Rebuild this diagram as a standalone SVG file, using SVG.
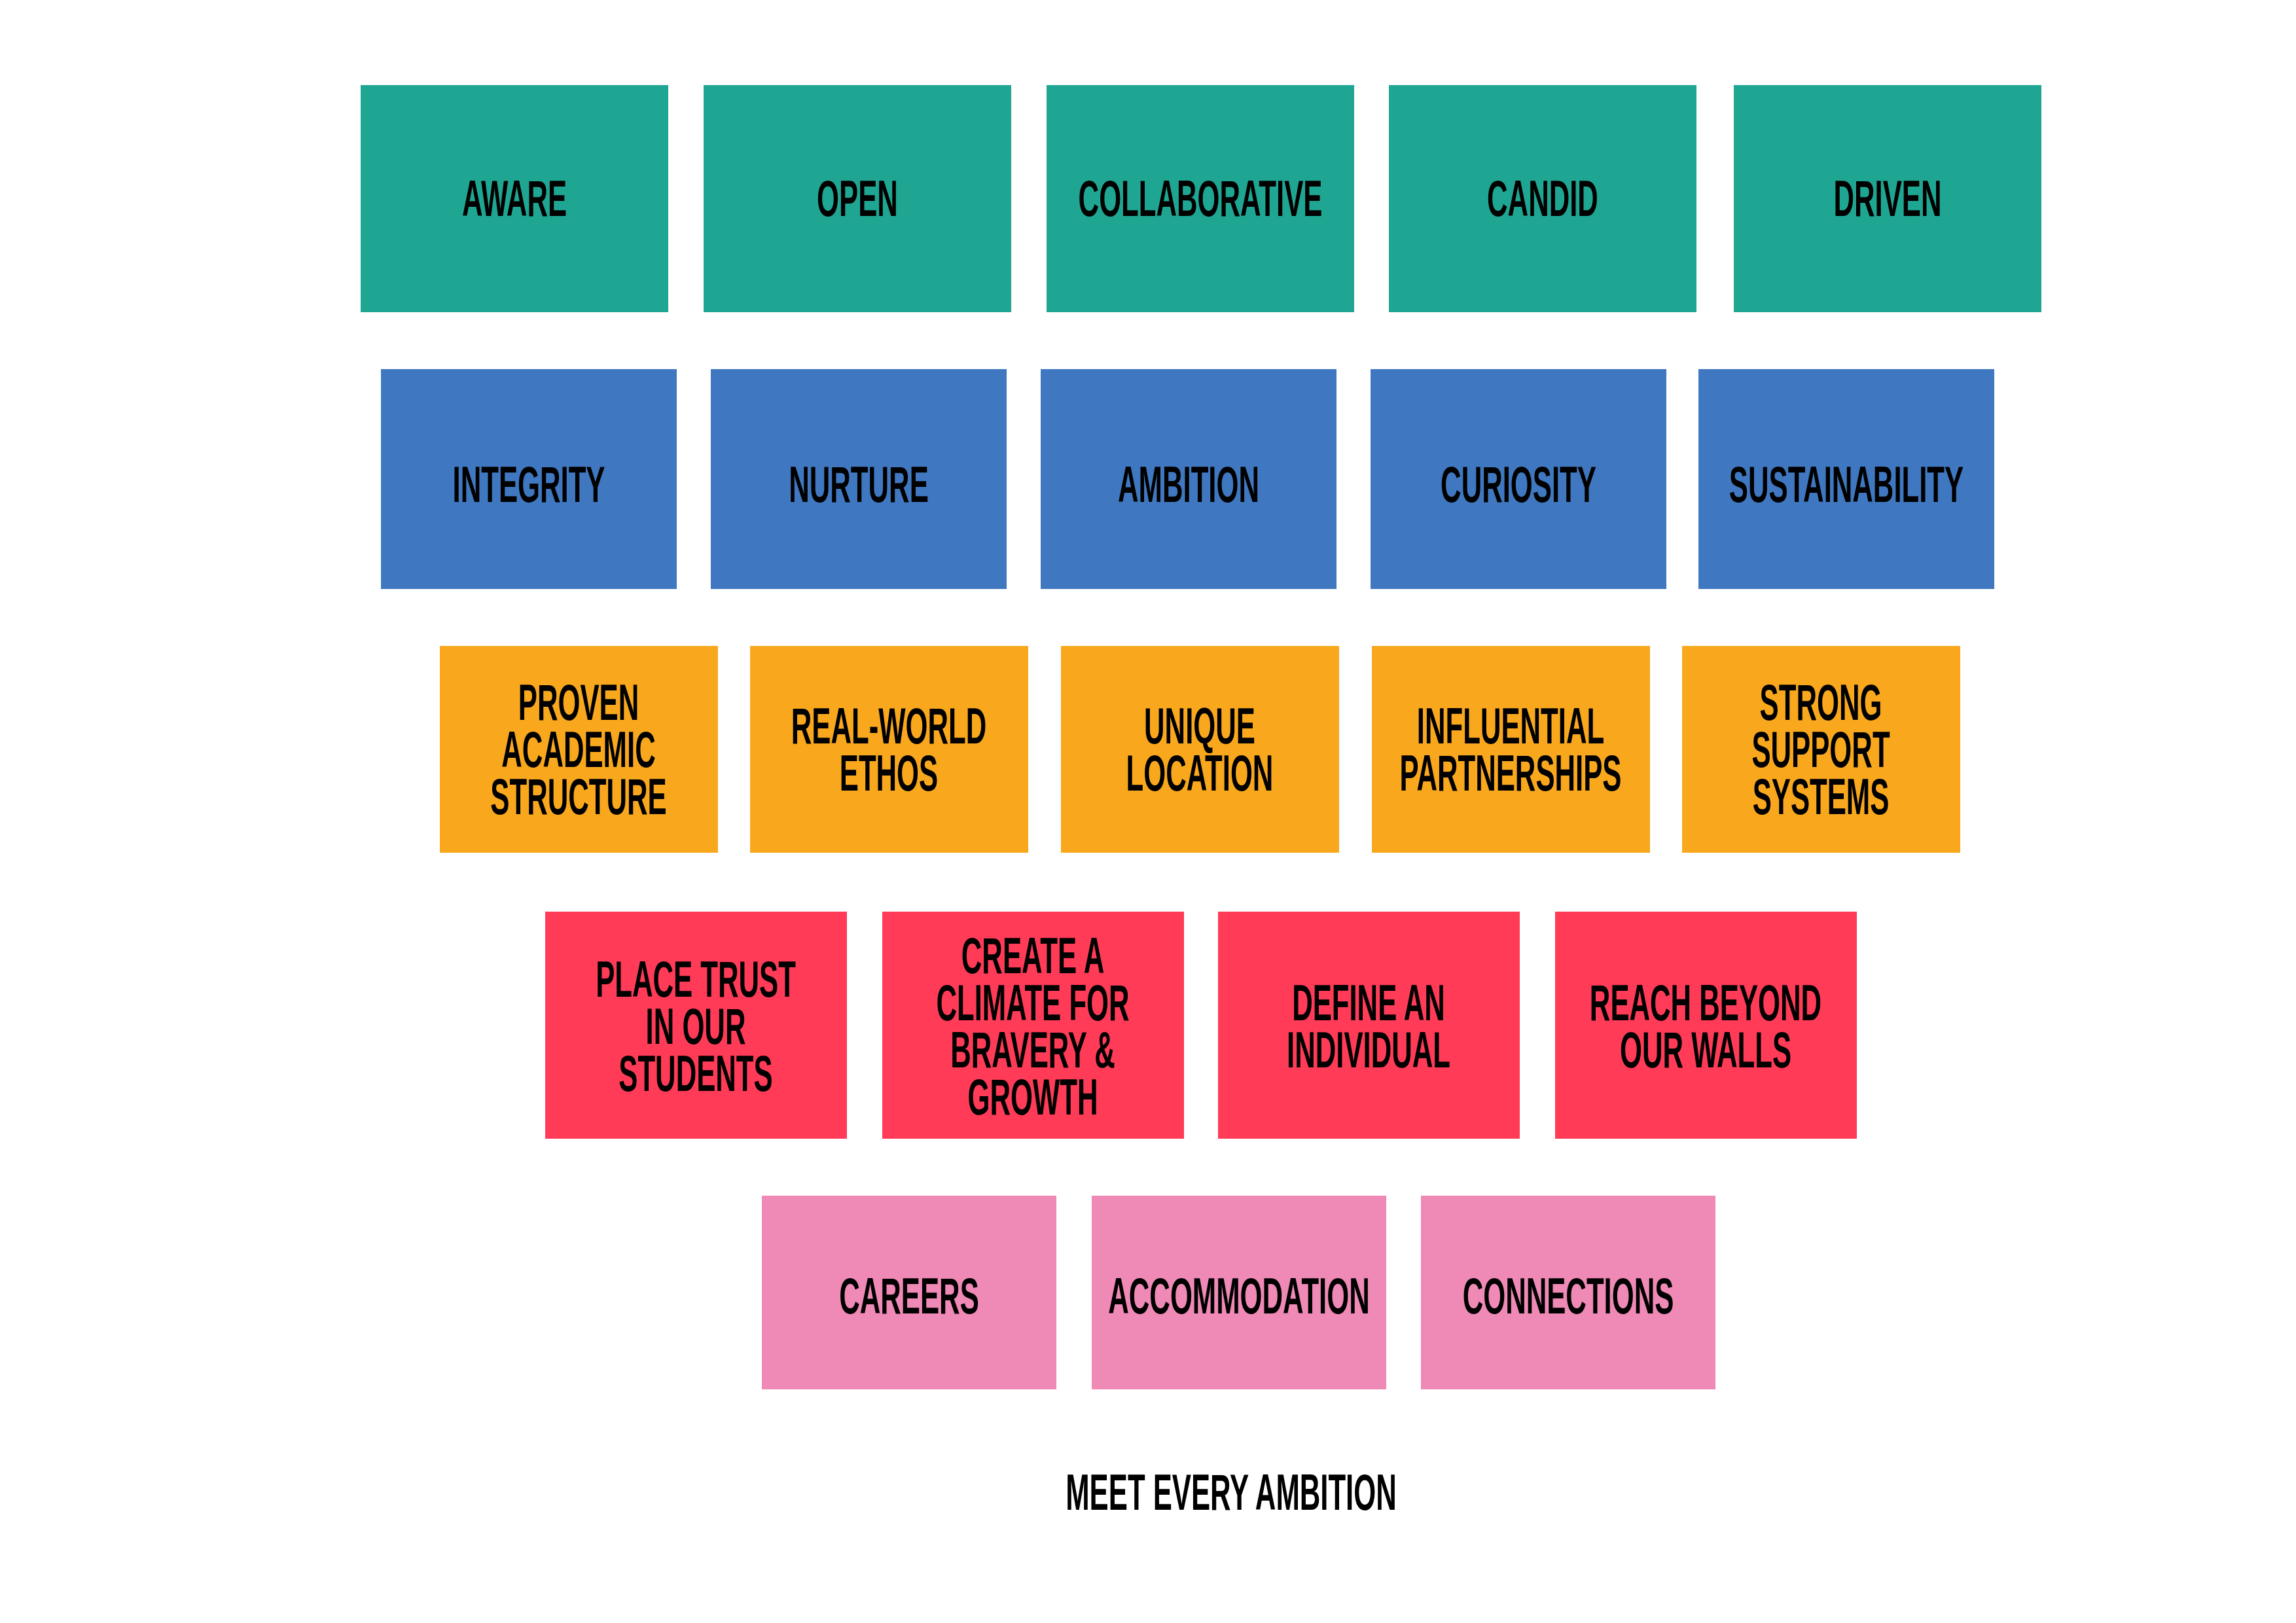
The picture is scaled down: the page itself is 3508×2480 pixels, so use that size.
<svg xmlns="http://www.w3.org/2000/svg" width="3508" height="2480" viewBox="0 0 3508 2480">
<style>
.t{font-family:"Liberation Sans",Arial,sans-serif;font-weight:bold;font-size:78px;fill:#000;text-anchor:middle}
.g{fill:#1FA693}.b{fill:#3F78C0}.o{fill:#F9A81D}.r{fill:#FF3B57}.p{fill:#EF89B6}
</style>
<rect width="3508" height="2480" fill="#fff"/>
<g id="aware"><rect class="g" x="551" y="130" width="470" height="347"/><g transform="translate(786,302) scale(0.56,1)"><text class="t" y="28">AWARE</text></g></g>
<g id="open"><rect class="g" x="1075" y="130" width="470" height="347"/><g transform="translate(1310,302) scale(0.56,1)"><text class="t" y="28">OPEN</text></g></g>
<g id="collaborative"><rect class="g" x="1599" y="130" width="470" height="347"/><g transform="translate(1834,302) scale(0.56,1)"><text class="t" y="28">COLLABORATIVE</text></g></g>
<g id="candid"><rect class="g" x="2122" y="130" width="470" height="347"/><g transform="translate(2357,302) scale(0.56,1)"><text class="t" y="28">CANDID</text></g></g>
<g id="driven"><rect class="g" x="2649" y="130" width="470" height="347"/><g transform="translate(2884,302) scale(0.56,1)"><text class="t" y="28">DRIVEN</text></g></g>

<g id="integrity"><rect class="b" x="582" y="564" width="452" height="336"/><g transform="translate(808,739) scale(0.56,1)"><text class="t" y="28">INTEGRITY</text></g></g>
<g id="nurture"><rect class="b" x="1086" y="564" width="452" height="336"/><g transform="translate(1312,739) scale(0.56,1)"><text class="t" y="28">NURTURE</text></g></g>
<g id="ambition"><rect class="b" x="1590" y="564" width="452" height="336"/><g transform="translate(1816,739) scale(0.56,1)"><text class="t" y="28">AMBITION</text></g></g>
<g id="curiosity"><rect class="b" x="2094" y="564" width="452" height="336"/><g transform="translate(2320,739) scale(0.56,1)"><text class="t" y="28">CURIOSITY</text></g></g>
<g id="sustainability"><rect class="b" x="2595" y="564" width="452" height="336"/><g transform="translate(2821,739) scale(0.56,1)"><text class="t" y="28">SUSTAINABILITY</text></g></g>

<g id="proven"><rect class="o" x="672" y="987" width="425" height="316"/><g transform="translate(884,1144) scale(0.56,1)"><text class="t" y="-44">PROVEN</text><text class="t" y="28">ACADEMIC</text><text class="t" y="100">STRUCTURE</text></g></g>
<g id="realworld"><rect class="o" x="1146" y="987" width="425" height="316"/><g transform="translate(1358,1144) scale(0.56,1)"><text class="t" y="-8">REAL-WORLD</text><text class="t" y="64">ETHOS</text></g></g>
<g id="unique"><rect class="o" x="1621" y="987" width="425" height="316"/><g transform="translate(1833,1144) scale(0.56,1)"><text class="t" y="-8">UNIQUE</text><text class="t" y="64">LOCATION</text></g></g>
<g id="influential"><rect class="o" x="2096" y="987" width="425" height="316"/><g transform="translate(2308,1144) scale(0.56,1)"><text class="t" y="-8">INFLUENTIAL</text><text class="t" y="64">PARTNERSHIPS</text></g></g>
<g id="strong"><rect class="o" x="2570" y="987" width="425" height="316"/><g transform="translate(2782,1144) scale(0.56,1)"><text class="t" y="-44">STRONG</text><text class="t" y="28">SUPPORT</text><text class="t" y="100">SYSTEMS</text></g></g>

<g id="trust"><rect class="r" x="833" y="1393" width="461" height="347"/><g transform="translate(1063,1567) scale(0.56,1)"><text class="t" y="-44">PLACE TRUST</text><text class="t" y="28">IN OUR</text><text class="t" y="100">STUDENTS</text></g></g>
<g id="climate"><rect class="r" x="1348" y="1393" width="461" height="347"/><g transform="translate(1578,1567) scale(0.56,1)"><text class="t" y="-80">CREATE A</text><text class="t" y="-8">CLIMATE FOR</text><text class="t" y="64">BRAVERY &amp;</text><text class="t" y="136">GROWTH</text></g></g>
<g id="define"><rect class="r" x="1861" y="1393" width="461" height="347"/><g transform="translate(2091,1567) scale(0.56,1)"><text class="t" y="-8">DEFINE AN</text><text class="t" y="64">INDIVIDUAL</text></g></g>
<g id="reach"><rect class="r" x="2376" y="1393" width="461" height="347"/><g transform="translate(2606,1567) scale(0.56,1)"><text class="t" y="-8">REACH BEYOND</text><text class="t" y="64">OUR WALLS</text></g></g>

<g id="careers"><rect class="p" x="1164" y="1827" width="450" height="296"/><g transform="translate(1389,1979) scale(0.56,1)"><text class="t" y="28">CAREERS</text></g></g>
<g id="accommodation"><rect class="p" x="1668" y="1827" width="450" height="296"/><g transform="translate(1893,1979) scale(0.56,1)"><text class="t" y="28">ACCOMMODATION</text></g></g>
<g id="connections"><rect class="p" x="2171" y="1827" width="450" height="296"/><g transform="translate(2396,1979) scale(0.56,1)"><text class="t" y="28">CONNECTIONS</text></g></g>

<g id="meet"><g transform="translate(1881,2279) scale(0.56,1)"><text class="t" y="28">MEET EVERY AMBITION</text></g></g>
<g id="connectors"></g>
</svg>
